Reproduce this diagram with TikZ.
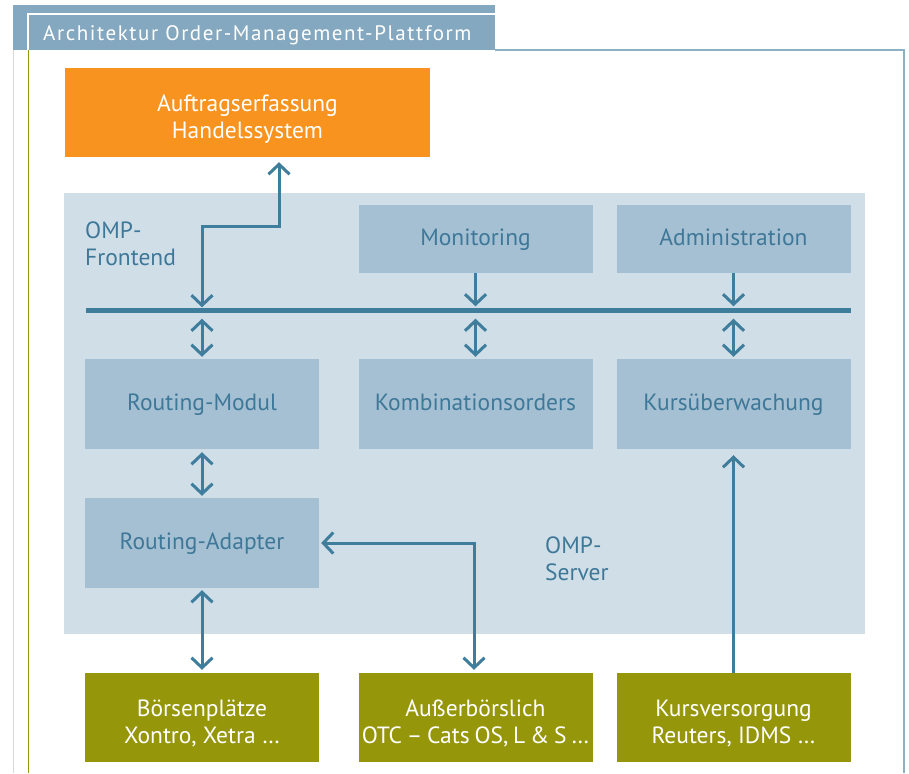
\documentclass[tikz,border=0pt]{standalone}
\usepackage{fontspec}
\setmainfont{PT Sans}
\newfontfamily\titelfont[LetterSpace=7.5]{PT Sans}
\usetikzlibrary{arrows.meta,positioning}

\definecolor{ompline}{HTML}{3F7D9C}
\definecolor{omptext}{HTML}{3E7898}
\definecolor{ompback}{HTML}{D0DEE8}
\definecolor{ompbox}{HTML}{A6C0D3}
\definecolor{omptab}{HTML}{84A8BF}
\definecolor{omporange}{HTML}{F7931E}
\definecolor{ompolive}{HTML}{95960A}

\newcommand{\engsatz}{\spaceskip=4.8pt plus 1pt\relax}

\tikzset{
	boxtext/.style={font=\fontsize{23.5}{27}\selectfont, align=center, inner sep=0pt},
	modul/.style={boxtext, fill=ompbox, text=omptext, minimum width=234pt, minimum height=90pt, text height=17pt, text depth=5pt},
	zweizeilig/.style={text height=56pt, text depth=5pt},
	quelle/.style={boxtext, zweizeilig, fill=ompolive, text=white, minimum width=234pt, minimum height=89pt},
	verb/.style={draw=ompline, line width=3pt, arrows={Straight Barb[length=10pt,width=21pt]-Straight Barb[length=10pt,width=21pt]}},
	einweg/.style={draw=ompline, line width=3pt, -{Straight Barb[length=10pt,width=21pt]}},
}

\begin{document}
\begin{tikzpicture}[x=1pt, y=-1pt]
		\useasboundingbox (0,0) rectangle (909,773);

		% Rahmen mit Reiter
		\fill[omptab] (13,5) rectangle (495,50);
		\draw[white, line width=1.2pt] (28,50) -- (28,14) -- (495,14);
		\draw[ompline!60, line width=1.5pt] (495,50) -- (904,50) -- (904,773);
		\draw[gray!30, line width=1pt] (13,50) -- (13,773);
		\draw[ompolive, line width=1pt] (28,50) -- (28,773);
		\node (titel) [anchor=west, text=white, font=\titelfont\fontsize{21}{24}\selectfont, inner sep=0pt] at (43,35) {Architektur Order-Management-Plattform};

		% Handelssystem
		\node (handel) [boxtext, zweizeilig, fill=omporange, text=white, minimum width=365pt, minimum height=89pt] at (247.5,112.5) {Auftragserfassung\\Handelssystem};

		% OMP-Bereich
		\node (omp) [fill=ompback, minimum width=801pt, minimum height=441pt, inner sep=0pt] at (464.5,413.5) {};
		\node (frontend) [boxtext, text=omptext, anchor=north west, align=left] at (85,222) {OMP-\\Frontend};
		\node (server) [boxtext, text=omptext, anchor=north west, align=left] at (545,537) {OMP-\\Server};

		\node (monitoring) [modul, minimum height=68pt] at (475.5,239) {Monitoring};
		\node (admin) [modul, minimum height=68pt] at (733.5,239) {Administration};

		\node (bus) [fill=ompline, minimum width=765pt, minimum height=5pt, inner sep=0pt] at (468.5,310) {};

		\node (routing) [modul] at (202,404) {Routing-Modul};
		\node (kombi) [modul] at (475.5,404) {Kombinationsorders};
		\node (kurs) [modul] at (733.5,404) {Kursüberwachung};
		\node (adapter) [modul] at (202,543) {Routing-Adapter};

		% Anbindungen
		\node (boerse) [quelle] at (202,717.5) {Börsenplätze\\Xontro, Xetra …};
		\node (otc) [quelle, font=\fontsize{23.5}{27}\selectfont\engsatz] at (475.5,717.5) {Außerbörslich\\OTC – Cats OS, L \& S …};
		\node (versorgung) [quelle] at (733.5,717.5) {Kursversorgung\\Reuters, IDMS …};

		\coordinate (knick) at (202,226);
		\draw[verb, shorten >=5pt] (bus.north -| routing) -- (knick) -| (handel.south -| 279,0);
		\draw[einweg, shorten >=1pt] (monitoring) -- (bus.north -| monitoring);
		\draw[einweg, shorten >=1pt] (admin) -- (bus.north -| admin);
		\draw[verb, shorten <=6pt, shorten >=2pt] (bus.south -| routing) -- (routing);
		\draw[verb, shorten <=6pt, shorten >=2pt] (bus.south -| kombi) -- (kombi);
		\draw[verb, shorten <=6pt, shorten >=2pt] (bus.south -| kurs) -- (kurs);
		\draw[verb, shorten <=3pt, shorten >=2pt] (routing) -- (adapter);
		\draw[verb, shorten <=2pt, shorten >=3pt] (adapter) -- (boerse);
		\draw[verb, shorten <=2pt, shorten >=3pt] (adapter.east) -| (otc.north -| 474,0);
		\draw[einweg, shorten >=6pt] (versorgung) -- (kurs);
	\end{tikzpicture}
\end{document}
